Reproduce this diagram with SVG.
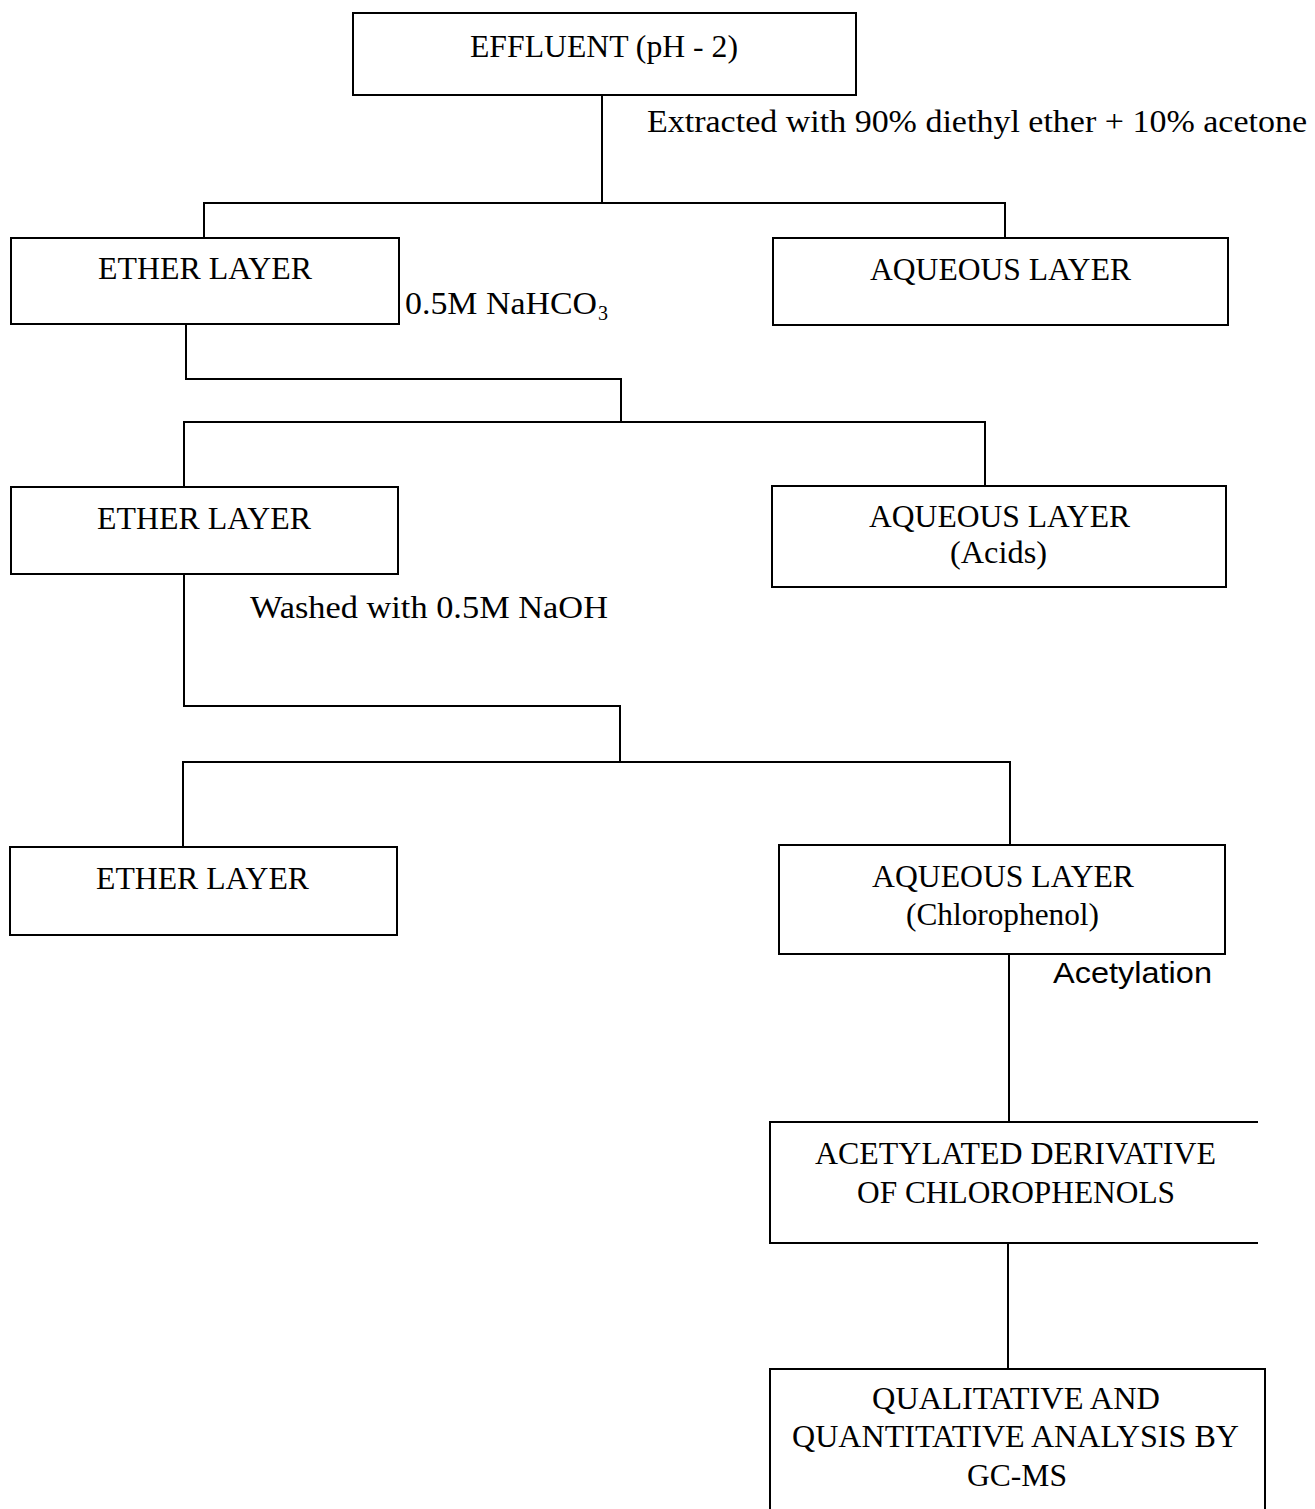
<svg xmlns="http://www.w3.org/2000/svg" width="1315" height="1509" viewBox="0 0 1315 1509">
<style>
.box{fill:none;stroke:#000;stroke-width:2}
.ln{fill:none;stroke:#000;stroke-width:2}
text{font-family:"Liberation Serif","Times New Roman",serif;font-size:31px;fill:#000}
.c{text-anchor:middle}
.sans{font-family:"Liberation Sans",Arial,sans-serif;font-size:30px}
</style>
<rect width="1315" height="1509" fill="#fff"/>
<g id="connectors">
<path class="ln" d="M602 95V203M204 238V203H1005V238"/>
<path class="ln" d="M186 324V379H621V422M184 487V422H985V486"/>
<path class="ln" d="M184 574V706H620V762M183 847V762H1010V845"/>
<path class="ln" d="M1009 954V1122"/>
<path class="ln" d="M1008 1243V1369"/>
</g>
<g id="labels">
<text x="647" y="132" textLength="660" lengthAdjust="spacingAndGlyphs">Extracted with 90% diethyl ether + 10% acetone</text>
<text x="405" y="314" textLength="192" lengthAdjust="spacingAndGlyphs">0.5M NaHCO</text><text x="598" y="320" style="font-size:20px">3</text>
<text x="250" y="618" textLength="358" lengthAdjust="spacingAndGlyphs">Washed with 0.5M NaOH</text>
<text class="sans" x="1053" y="983" textLength="159" lengthAdjust="spacingAndGlyphs">Acetylation</text>
</g>
<g id="effluent">
<rect class="box" x="353" y="13" width="503" height="82"/>
<text x="470" y="57" textLength="268" lengthAdjust="spacingAndGlyphs">EFFLUENT (pH - 2)</text>
</g>
<g id="ether1">
<rect class="box" x="11" y="238" width="388" height="86"/>
<text x="98" y="279" textLength="214" lengthAdjust="spacingAndGlyphs">ETHER LAYER</text>
</g>
<g id="aqueous1">
<rect class="box" x="773" y="238" width="455" height="87"/>
<text x="870" y="280" textLength="261" lengthAdjust="spacingAndGlyphs">AQUEOUS LAYER</text>
</g>
<g id="ether2">
<rect class="box" x="11" y="487" width="387" height="87"/>
<text x="97" y="529" textLength="214" lengthAdjust="spacingAndGlyphs">ETHER LAYER</text>
</g>
<g id="aqueous2">
<rect class="box" x="772" y="486" width="454" height="101"/>
<text x="869" y="527" textLength="261" lengthAdjust="spacingAndGlyphs">AQUEOUS LAYER</text>
<text x="950" y="563" textLength="97" lengthAdjust="spacingAndGlyphs">(Acids)</text>
</g>
<g id="ether3">
<rect class="box" x="10" y="847" width="387" height="88"/>
<text x="96" y="889" textLength="213" lengthAdjust="spacingAndGlyphs">ETHER LAYER</text>
</g>
<g id="aqueous3">
<rect class="box" x="779" y="845" width="446" height="109"/>
<text x="872" y="887" textLength="262" lengthAdjust="spacingAndGlyphs">AQUEOUS LAYER</text>
<text x="906" y="925" textLength="193" lengthAdjust="spacingAndGlyphs">(Chlorophenol)</text>
</g>
<g id="acetylated">
<path class="box" d="M1258 1122H770V1243H1258"/>
<text x="815" y="1164" textLength="401" lengthAdjust="spacingAndGlyphs">ACETYLATED DERIVATIVE</text>
<text x="857" y="1203" textLength="318" lengthAdjust="spacingAndGlyphs">OF CHLOROPHENOLS</text>
</g>
<g id="analysis">
<path class="box" d="M770 1510V1369H1265V1510"/>
<text x="872" y="1409" textLength="288" lengthAdjust="spacingAndGlyphs">QUALITATIVE AND</text>
<text x="792" y="1447" textLength="447" lengthAdjust="spacingAndGlyphs">QUANTITATIVE ANALYSIS BY</text>
<text x="967" y="1486" textLength="100" lengthAdjust="spacingAndGlyphs">GC-MS</text>
</g>
</svg>
